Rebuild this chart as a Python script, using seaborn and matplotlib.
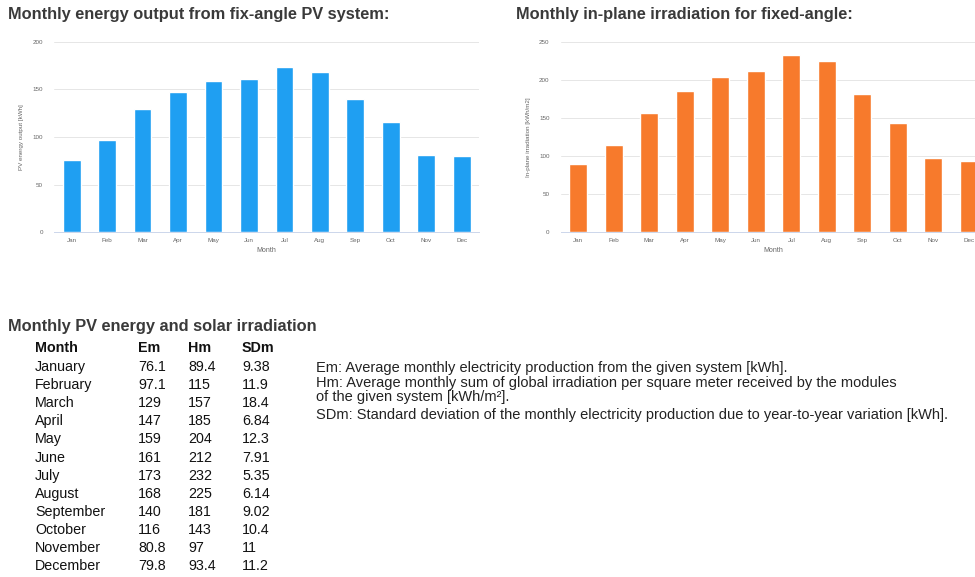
import numpy as np
import pandas as pd
import matplotlib
matplotlib.use("Agg")
import matplotlib.pyplot as plt
import seaborn as sns

# ----------------------------------------------------------
# Data
# ----------------------------------------------------------
months_short = ["Jan", "Feb", "Mar", "Apr", "May", "Jun",
                "Jul", "Aug", "Sep", "Oct", "Nov", "Dec"]
months_long = ["January", "February", "March", "April", "May", "June",
               "July", "August", "September", "October", "November", "December"]
em = [76.1, 97.1, 129, 147, 159, 161, 173, 168, 140, 116, 80.8, 79.8]
hm = [89.4, 115, 157, 185, 204, 212, 232, 225, 181, 143, 97, 93.4]
sdm = [9.38, 11.9, 18.4, 6.84, 12.3, 7.91, 5.35, 6.14, 9.02, 10.4, 11, 11.2]

em_ticks = [0, 50, 100, 150, 200]
hm_ticks = [0, 50, 100, 150, 200, 250]

notes = [
    "Em: Average monthly electricity production from the given system [kWh].",
    "Hm: Average monthly sum of global irradiation per square meter received by the modules",
    "of the given system [kWh/m²].",
    "SDm: Standard deviation of the monthly electricity production due to year-to-year variation [kWh].",
]
note_y = [368, 383.5, 397.5, 415]

df = pd.DataFrame({"Month": months_short, "Em": em, "Hm": hm})

# ----------------------------------------------------------
# Style
# ----------------------------------------------------------
sns.set_theme(style="white")
plt.rcParams["font.family"] = ["Liberation Sans", "DejaVu Sans"]

W, H = 975, 577
fig = plt.figure(figsize=(W / 100, H / 100), dpi=100)
fig.patch.set_facecolor("white")


def px_axes(x0, y0, x1, y1):
    return fig.add_axes([x0 / W, 1 - y1 / H, (x1 - x0) / W, (y1 - y0) / H])


def style_chart(ax, ticks, ylabel):
    ax.set_ylim(0, ticks[-1])
    ax.set_xlim(-0.5, 11.5)
    ax.set_yticks(ticks)
    ax.set_yticklabels([str(t) for t in ticks], fontsize=4.5, color="#666666")
    ax.tick_params(axis="x", which="major", length=0, labelsize=4.5,
                   labelcolor="#666666", pad=4)
    ax.tick_params(axis="y", length=0, pad=8)
    ax.set_xticks(np.arange(-0.5, 12, 1), minor=True)
    ax.tick_params(axis="x", which="minor", length=4, width=0.6, color="#ccd6eb")
    ax.grid(axis="y", color="#e6e6e6", linewidth=0.7)
    ax.set_axisbelow(True)
    for s in ["top", "right", "left"]:
        ax.spines[s].set_visible(False)
    ax.spines["bottom"].set_color("#ccd6eb")
    ax.spines["bottom"].set_linewidth(0.7)
    ax.set_xlabel("Month", fontsize=5, color="#666666", labelpad=3)
    ax.set_ylabel(ylabel, fontsize=4.5, color="#666666", labelpad=6)


# ----------------------------------------------------------
# Left chart - PV energy output
# ----------------------------------------------------------
ax1 = px_axes(54, 41.7, 479.4, 232.3)
sns.barplot(data=df, x="Month", y="Em", color="#1f9ff2", saturation=1,
            width=0.5, ax=ax1)
style_chart(ax1, em_ticks, "PV energy output [kWh]")
fig.text(8 / W, 1 - 15 / H, "Monthly energy output from fix-angle PV system:",
         fontsize=11.8, fontweight="bold", color="#3a3a3a", va="center")

# ----------------------------------------------------------
# Right chart - in-plane irradiation (cut at figure edge)
# ----------------------------------------------------------
ax2 = px_axes(560.6, 41.7, 986.6, 232.3)
sns.barplot(data=df, x="Month", y="Hm", color="#f77a2c", saturation=1,
            width=0.5, ax=ax2)
style_chart(ax2, hm_ticks, "In-plane irradiation [kWh/m2]")
fig.text(516 / W, 1 - 15 / H, "Monthly in-plane irradiation for fixed-angle:",
         fontsize=11.8, fontweight="bold", color="#3a3a3a", va="center")

# ----------------------------------------------------------
# Table
# ----------------------------------------------------------
fig.text(8 / W, 1 - 326 / H, "Monthly PV energy and solar irradiation",
         fontsize=11.8, fontweight="bold", color="#3a3a3a", va="center")

col_x = [35, 138, 188, 242]
headers = ["Month", "Em", "Hm", "SDm"]
for cx, h in zip(col_x, headers):
    fig.text(cx / W, 1 - 348 / H, h, fontsize=10.3, fontweight="bold",
             color="#111111", va="center")

row0, step = 367, 18.1
for i, (m, e, hh, sd) in enumerate(zip(months_long, em, hm, sdm)):
    y = 1 - (row0 + i * step) / H
    for cx, val in zip(col_x, [m, f"{e:g}", f"{hh:g}", f"{sd:g}"]):
        fig.text(cx / W, y, val, fontsize=10.3, color="#111111", va="center")

# Notes
for txt, ny in zip(notes, note_y):
    fig.text(316 / W, 1 - ny / H, txt, fontsize=10.5, color="#222222", va="center")

fig.savefig("out.png", dpi=100)
